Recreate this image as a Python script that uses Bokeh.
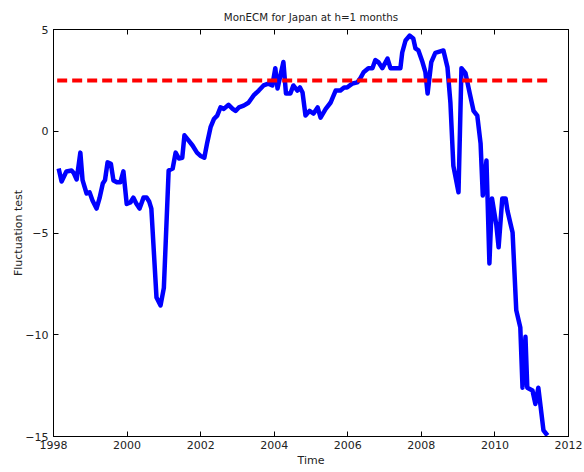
from bokeh.plotting import figure
from bokeh.models import LinearAxis, FixedTicker, Range1d
from bokeh.embed import file_html
from bokeh.resources import INLINE

# ---- data ----
time = [1998.14, 1998.22, 1998.35, 1998.49, 1998.55, 1998.63, 1998.73, 1998.79, 1998.90, 1998.98,
        1999.06, 1999.17, 1999.25, 1999.34, 1999.40, 1999.47, 1999.56, 1999.63, 1999.72, 1999.82,
        1999.90, 1999.99, 2000.09, 2000.17, 2000.25, 2000.34, 2000.45, 2000.53, 2000.60, 2000.66,
        2000.80, 2000.91, 2001.00, 2001.13, 2001.24, 2001.32, 2001.41, 2001.50, 2001.56, 2001.67,
        2001.78, 2001.90, 2001.99, 2002.10, 2002.18, 2002.27, 2002.36, 2002.45, 2002.54, 2002.63,
        2002.76, 2002.87, 2002.95, 2003.04, 2003.17, 2003.30, 2003.44, 2003.58, 2003.71, 2003.84,
        2003.95, 2004.03, 2004.09, 2004.25, 2004.32, 2004.44, 2004.52, 2004.63, 2004.70, 2004.77,
        2004.85, 2004.96, 2005.07, 2005.18, 2005.26, 2005.40, 2005.53, 2005.67, 2005.80, 2005.90,
        2005.98, 2006.13, 2006.26, 2006.34, 2006.43, 2006.56, 2006.67, 2006.75, 2006.83, 2006.94,
        2007.08, 2007.16, 2007.30, 2007.43, 2007.48, 2007.57, 2007.68, 2007.78, 2007.84, 2007.92,
        2008.03, 2008.11, 2008.17, 2008.27, 2008.38, 2008.60, 2008.71, 2008.79, 2008.87, 2009.01,
        2009.09, 2009.20, 2009.31, 2009.42, 2009.52, 2009.61, 2009.67, 2009.77, 2009.85, 2009.92,
        2010.04, 2010.10, 2010.20, 2010.29, 2010.34, 2010.48, 2010.58, 2010.69, 2010.75, 2010.83,
        2010.88, 2011.02, 2011.10, 2011.18, 2011.32, 2011.43]
fluct = [-1.83, -2.47, -1.98, -1.93, -2.05, -2.37, -1.05, -2.40, -3.06, -3.00,
         -3.40, -3.80, -3.30, -2.57, -2.40, -1.53, -1.60, -2.42, -2.50, -2.50,
         -1.97, -3.57, -3.50, -3.26, -3.55, -3.80, -3.25, -3.25, -3.45, -3.80,
         -8.17, -8.56, -7.70, -1.93, -1.83, -1.05, -1.34, -1.30, -0.20, -0.45,
         -0.70, -1.05, -1.20, -1.30, -0.55, 0.20, 0.60, 0.77, 1.17, 1.10,
         1.30, 1.10, 1.00, 1.17, 1.26, 1.40, 1.76, 2.00, 2.25, 2.34,
         2.25, 3.10, 2.10, 3.40, 1.85, 1.85, 2.25, 2.00, 2.15, 1.90,
         0.77, 1.00, 0.87, 1.17, 0.67, 1.10, 1.40, 2.00, 2.00, 2.15,
         2.15, 2.35, 2.40, 2.60, 2.90, 3.10, 3.10, 3.50, 3.40, 3.10,
         3.57, 3.10, 3.10, 3.10, 3.87, 4.46, 4.70, 4.56, 4.07, 3.97,
         3.40, 2.90, 1.85, 3.40, 3.85, 3.97, 3.14, 1.40, -1.70, -3.00,
         3.10, 2.85, 1.90, 1.00, 0.77, -0.60, -3.16, -1.44, -6.50, -3.30,
         -4.63, -5.70, -3.30, -3.30, -3.90, -4.98, -8.80, -9.64, -12.60, -10.10,
         -12.60, -12.74, -13.40, -12.60, -14.70, -14.95]
crit_time = [1998.10, 2011.45]
crit_value = [2.5, 2.5]
x_ticks = [1998, 2000, 2002, 2004, 2006, 2008, 2010, 2012]
y_ticks = [-15, -10, -5, 0, 5]

FONT = "DejaVu Sans"

p = figure(width=584, height=472, output_backend="svg", toolbar_location=None,
           x_range=Range1d(1998, 2012), y_range=Range1d(-15, 5),
           x_axis_location=None, y_axis_location=None,
           min_border_left=53, min_border_right=16, min_border_top=29, min_border_bottom=36,
           background_fill_color="white", border_fill_color="white")
p.xgrid.visible = False
p.ygrid.visible = False
p.outline_line_color = "black"
p.outline_line_width = 1

p.title.text = "MonECM for Japan at h=1 months"
p.title.align = "center"
p.title.text_font = FONT
p.title.text_font_size = "10.3px"
p.title.text_font_style = "normal"
p.title.text_color = "#222222"
p.title.standoff = 13


def style_axis(ax, ticks, show_labels):
    ax.ticker = FixedTicker(ticks=ticks)
    ax.major_tick_in = 5
    ax.major_tick_out = 0
    ax.minor_tick_in = 0
    ax.minor_tick_out = 0
    ax.axis_line_color = "black"
    ax.major_tick_line_color = "black"
    ax.major_label_text_font = FONT
    ax.major_label_text_color = "#222222"
    ax.axis_label_text_font = FONT
    ax.axis_label_text_font_style = "normal"
    ax.axis_label_text_color = "#222222"
    ax.axis_label_text_font_size = "11px"
    if show_labels:
        ax.major_label_text_font_size = "11px"
        ax.major_label_standoff = 5
    else:
        ax.major_label_text_font_size = "0px"
        ax.major_label_standoff = 0


xb = LinearAxis(axis_label="Time")
xt = LinearAxis()
yl = LinearAxis(axis_label="Fluctuation test")
yr = LinearAxis()
style_axis(xb, x_ticks, True)
style_axis(xt, x_ticks, False)
style_axis(yl, y_ticks, True)
style_axis(yr, y_ticks, False)
xb.major_label_standoff = 4
xb.axis_label_standoff = 2
yl.axis_label_standoff = -3
p.add_layout(xb, "below")
p.add_layout(xt, "above")
p.add_layout(yl, "left")
p.add_layout(yr, "right")

p.line(time, fluct, line_color="#0000FF", line_width=4.5, line_join="round")
p.line(crit_time, crit_value, line_color="#FF0000", line_width=4, line_dash="10 5")

open("out.html", "w").write(file_html(p, INLINE))
